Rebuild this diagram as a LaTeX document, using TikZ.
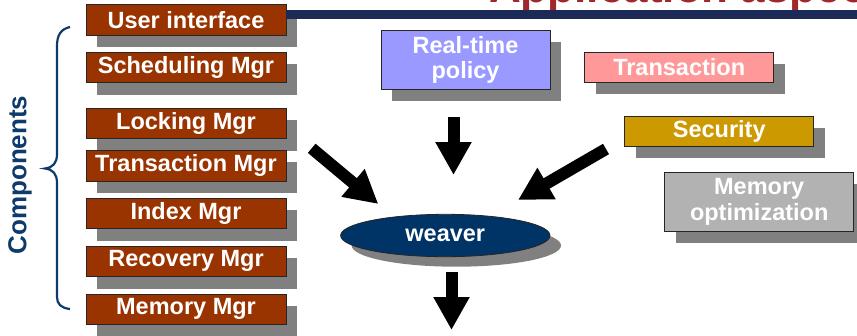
\documentclass[tikz,border=0pt]{standalone}
\usepackage{fontspec}
\setmainfont{Liberation Sans}
\usetikzlibrary{shapes.geometric,shadows,arrows.meta}
\definecolor{mgrfill}{HTML}{993300}
\definecolor{shadowgray}{HTML}{808080}
\definecolor{rtfill}{HTML}{9999FF}
\definecolor{trfill}{HTML}{FF9999}
\definecolor{secfill}{HTML}{CC9900}
\definecolor{memfill}{HTML}{B2B2B2}
\definecolor{weavefill}{HTML}{003366}
\definecolor{compblue}{HTML}{0E3B6C}
\definecolor{barnavy}{HTML}{1C2A58}
\definecolor{titlered}{HTML}{A0282D}
\tikzset{
  boxfont/.style={font=\bfseries\fontsize{23.5}{25.5}\selectfont},
  mgr/.style={boxfont, draw=black!85, line width=0.8pt, fill=mgrfill, text=white,
    minimum width=200pt, minimum height=30.5pt, inner sep=0pt,
    drop shadow={shadow xshift=11pt, shadow yshift=-12pt, fill=shadowgray, opacity=1}},
  aspect/.style={boxfont, draw=black!85, line width=0.8pt, text=white, align=center,
    minimum width=189pt, minimum height=30.4pt, inner sep=0pt,
    drop shadow={shadow xshift=11pt, shadow yshift=-11.5pt, fill=shadowgray, opacity=1}},
  bigarrow/.style={line width=12pt, black, -{Triangle[length=33pt,width=34pt]}},
}
\begin{document}
\begin{tikzpicture}[x=1pt,y=-1pt]
\useasboundingbox (0,0) rectangle (857,335);
\clip (0,0) rectangle (857,335);

% title (clipped at the top edge, as in the reference)
\node[anchor=base west, inner sep=0pt, text=titlered, font=\bfseries\fontsize{44}{48}\selectfont] (title) at (489,2.5) {Application aspects};

% left components
\node[mgr] (ui)   at (186,20)    {User interface};
\node[mgr] (sch)  at (186,67.5)  {Scheduling Mgr};
\node[mgr] (lock) at (186,123.3) {Locking Mgr};
\node[mgr] (tm)   at (186,165.7) {Transaction Mgr};
\node[mgr] (idx)  at (186,213.5) {Index Mgr};
\node[mgr] (rec)  at (186,261.3) {Recovery Mgr};
\node[mgr] (mem)  at (186,309.2) {Memory Mgr};

\fill[barnavy] (286,10) rectangle (857,19.3);

% brace and label
\draw[compblue, line width=2.2pt] (70,27) .. controls (61,29) and (57,35) .. (57,46)
  -- (57,154) .. controls (57,163) and (53,167.5) .. (45,168.5)
  .. controls (53,169.5) and (57,174) .. (57,183)
  -- (57,297) .. controls (57,304) and (61,308) .. (70,309);
\node[rotate=90, text=compblue, font=\bfseries\fontsize{26}{28}\selectfont, inner sep=0pt] (comp) at (20,175) {Components};

% aspects
\node[aspect, fill=rtfill, minimum width=169pt, minimum height=59.3pt] (rt) at (465.5,59.7) {Real-time\\policy};
\node[aspect, fill=trfill] (tr) at (679.2,67.5) {Transaction};
\node[aspect, fill=secfill] (sec) at (719.2,131.5) {Security};
\node[aspect, fill=memfill, minimum height=59.4pt] (mo) at (759.2,202) {Memory\\optimization};

% weaver
\node[ellipse, draw=black!85, line width=0.8pt, fill=weavefill, text=white, boxfont,
  minimum width=209.4pt, minimum height=42.4pt, inner sep=0pt,
  drop shadow={shadow xshift=11pt, shadow yshift=-10pt, fill=shadowgray, opacity=1}] (weaver) at (445.3,235.5) {weaver};

% arrows
\coordinate (a1s) at (311.7,148.3);
\coordinate (a1t) at (378.3,204);
\coordinate (a2s) at (453.5,117);
\coordinate (a2t) at (453.5,175);
\coordinate (a3s) at (606,149);
\coordinate (a3t) at (518,200);
\coordinate (a4s) at (451.5,272);
\coordinate (a4t) at (451.5,330);
\draw[bigarrow] (a1s) -- (a1t);
\draw[bigarrow] (a2s) -- (a2t);
\draw[bigarrow] (a3s) -- (a3t);
\draw[bigarrow] (a4s) -- (a4t);
\end{tikzpicture}
\end{document}
